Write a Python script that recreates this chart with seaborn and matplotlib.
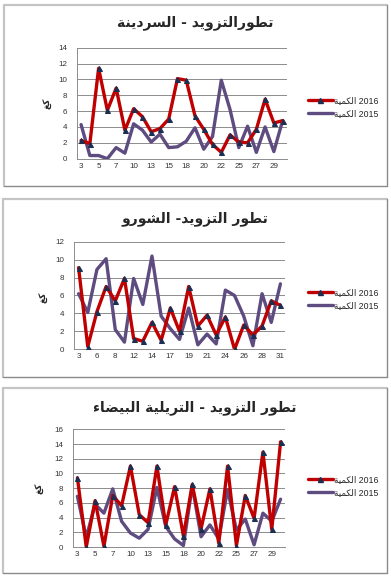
import numpy as np
import matplotlib
matplotlib.use('Agg')
import matplotlib.pyplot as plt
from matplotlib.lines import Line2D
import seaborn as sns

# Data (day of month -> quantity)
days_sardine = [3, 4, 5, 6, 7, 9, 10, 12, 13, 14, 15, 17, 18, 19, 20, 21, 22, 24, 25, 26, 27, 28, 29, 30]
sardine_2016 = [2.3, 1.9, 11.4, 6.1, 8.9, 3.6, 6.3, 5.3, 3.4, 3.8, 5.0, 10.1, 9.9, 5.4, 3.7, 1.8, 0.8, 3.0, 2.1, 2.0, 3.7, 7.5, 4.5, 4.8]
sardine_2015 = [4.3, 0.4, 0.4, 0.0, 1.4, 0.7, 4.4, 3.6, 2.1, 3.1, 1.4, 1.5, 2.2, 3.9, 1.2, 2.8, 9.9, 6.2, 1.4, 4.1, 0.8, 4.0, 0.9, 4.8]

days_chourou = [3, 5, 6, 7, 8, 10, 12, 13, 14, 16, 17, 18, 19, 20, 21, 22, 24, 25, 26, 27, 28, 30, 31]
chourou_2016 = [9.1, 0.3, 4.2, 7.0, 5.4, 7.9, 1.2, 0.9, 3.0, 1.0, 4.6, 2.0, 7.0, 2.6, 3.8, 1.6, 3.6, 0.0, 2.7, 1.6, 2.6, 5.4, 4.9]
chourou_2015 = [6.2, 4.1, 8.9, 10.1, 2.2, 0.8, 7.9, 5.0, 10.4, 3.7, 2.3, 1.1, 4.6, 0.5, 1.7, 0.6, 6.6, 6.0, 3.7, 0.4, 6.2, 3.0, 7.3]

days_trilia = [3, 4, 5, 6, 7, 9, 10, 12, 13, 14, 15, 17, 18, 19, 20, 21, 22, 24, 25, 26, 27, 28, 29, 30]
trilia_2016 = [9.4, 0.0, 6.3, 0.1, 7.0, 5.6, 11.0, 4.4, 3.3, 11.0, 3.0, 8.2, 1.5, 8.5, 2.5, 7.9, 0.5, 11.0, 0.2, 7.0, 3.9, 12.9, 2.4, 14.3]
trilia_2015 = [6.9, 1.3, 5.8, 4.6, 7.9, 3.5, 1.9, 1.2, 2.4, 8.1, 2.8, 1.1, 0.2, 8.3, 1.4, 3.0, 1.1, 7.8, 2.3, 3.8, 0.3, 4.6, 3.5, 6.5]

titles = ['تطورالتزويد - السردينة', 'تطور التزويد- الشورو', 'تطور التزويد - التريلية البيضاء']
ylabel = 'كغ'
legend_word = 'الكمية'

# small arabic shaper (matplotlib does not join arabic letters)
AR_FORMS = {
    'ء': ('\uFE80', None, None, None),
    'ا': ('\uFE8D', '\uFE8E', None, None),
    'ب': ('\uFE8F', '\uFE90', '\uFE91', '\uFE92'),
    'ة': ('\uFE93', '\uFE94', None, None),
    'ت': ('\uFE95', '\uFE96', '\uFE97', '\uFE98'),
    'د': ('\uFEA9', '\uFEAA', None, None),
    'ر': ('\uFEAD', '\uFEAE', None, None),
    'ز': ('\uFEAF', '\uFEB0', None, None),
    'س': ('\uFEB1', '\uFEB2', '\uFEB3', '\uFEB4'),
    'ش': ('\uFEB5', '\uFEB6', '\uFEB7', '\uFEB8'),
    'ض': ('\uFEBD', '\uFEBE', '\uFEBF', '\uFEC0'),
    'ط': ('\uFEC1', '\uFEC2', '\uFEC3', '\uFEC4'),
    'غ': ('\uFECD', '\uFECE', '\uFECF', '\uFED0'),
    'ك': ('\uFED9', '\uFEDA', '\uFEDB', '\uFEDC'),
    'ل': ('\uFEDD', '\uFEDE', '\uFEDF', '\uFEE0'),
    'م': ('\uFEE1', '\uFEE2', '\uFEE3', '\uFEE4'),
    'ن': ('\uFEE5', '\uFEE6', '\uFEE7', '\uFEE8'),
    'و': ('\uFEED', '\uFEEE', None, None),
    'ي': ('\uFEF1', '\uFEF2', '\uFEF3', '\uFEF4'),
}


def ar(text):
    out = []
    for i, c in enumerate(text):
        f = AR_FORMS.get(c)
        if f is None:
            out.append(c)
            continue
        prev = AR_FORMS.get(text[i - 1]) if i > 0 else None
        nxt = AR_FORMS.get(text[i + 1]) if i + 1 < len(text) else None
        jp = prev is not None and prev[2] is not None and f[1] is not None
        jn = nxt is not None and f[2] is not None and nxt[1] is not None
        if jp and jn:
            out.append(f[3])
        elif jp:
            out.append(f[1])
        elif jn:
            out.append(f[2])
        else:
            out.append(f[0])
    return ''.join(reversed(out))


sns.set_style('white')
plt.rcParams['font.family'] = ['Liberation Sans', 'DejaVu Sans']

W, H = 391, 578
fig = plt.figure(figsize=(W / 100, H / 100), dpi=100)
fig.patch.set_facecolor('white')

RED = '#C00000'
PURPLE = '#5E4B80'
GRID = '#8C8C8C'

# pixel layout: panel box, plot area, title y, legend y, ylabel pos, ymax
panels = [
    dict(box=(4, 5, 387, 186), area=(76.7, 47.7, 287, 158.7), ty=23, ly=(100, 114), yl=(48, 103), ymax=14,
         days=days_sardine, v16=sardine_2016, v15=sardine_2015),
    dict(box=(3, 199, 387, 377), area=(74, 241.7, 285, 349.3), ty=219, ly=(292, 306), yl=(44, 297), ymax=12,
         days=days_chourou, v16=chourou_2016, v15=chourou_2015),
    dict(box=(3, 388, 387, 573), area=(73, 429.3, 285, 547), ty=408, ly=(479, 493), yl=(40, 488), ymax=16,
         days=days_trilia, v16=trilia_2016, v15=trilia_2015),
]


def fx(px):
    return px / W


def fy(py):
    return 1 - py / H


for k, p in enumerate(panels):
    x0, y0, x1, y1 = p['box']
    # panel frame: light top/left, darker bottom/right
    fig.add_artist(Line2D([fx(x0), fx(x1)], [fy(y0), fy(y0)], color='#C4C4C4', lw=1.6))
    fig.add_artist(Line2D([fx(x0), fx(x0)], [fy(y0), fy(y1)], color='#C4C4C4', lw=1.6))
    fig.add_artist(Line2D([fx(x0), fx(x1)], [fy(y1), fy(y1)], color='#8A8A8A', lw=1.0))
    fig.add_artist(Line2D([fx(x1), fx(x1)], [fy(y0), fy(y1)], color='#8A8A8A', lw=1.0))

    l, t, r, b = p['area']
    ax = fig.add_axes([fx(l), fy(b), (r - l) / W, (b - t) / H])
    pos = np.arange(len(p['days']))

    sns.lineplot(x=pos, y=p['v15'], ax=ax, color=PURPLE, lw=2.4, zorder=3)
    sns.lineplot(x=pos, y=p['v16'], ax=ax, color=RED, lw=2.4, zorder=4,
                 marker='^', markersize=3.6, markerfacecolor='#1B2F52', markeredgecolor='#1B2F52')

    ax.set_xlim(-0.5, len(pos) - 0.5)
    ax.set_ylim(0, p['ymax'])
    ax.set_yticks(np.arange(0, p['ymax'] + 1, 2))
    ax.set_xticks(pos[::2])
    ax.set_xticklabels([str(d) for d in p['days'][::2]])
    ax.tick_params(axis='both', labelsize=5.8, colors='#333333', length=0)
    ax.tick_params(axis='y', pad=7)
    ax.tick_params(axis='x', pad=3)
    ax.grid(axis='y', color=GRID, lw=0.7)
    ax.set_axisbelow(True)
    for s in ['top', 'right']:
        ax.spines[s].set_visible(False)
    ax.spines['left'].set_color(GRID)
    ax.spines['left'].set_linewidth(0.7)
    ax.spines['bottom'].set_color(GRID)
    ax.spines['bottom'].set_linewidth(0.7)
    ax.set_xlabel('')
    ax.set_ylabel('')

    fig.text(fx(195), fy(p['ty']), ar(titles[k]), ha='center', va='center',
             fontsize=10, fontweight='bold', family='DejaVu Sans')
    fig.text(fx(p['yl'][0]), fy(p['yl'][1]), ar(ylabel), ha='center', va='center',
             rotation=90, fontsize=6.5, fontweight='bold', family='DejaVu Sans')

    handles = [Line2D([], [], color=RED, lw=2.4, marker='^', markersize=3.6,
                      markerfacecolor='#1B2F52', markeredgecolor='#1B2F52'),
               Line2D([], [], color=PURPLE, lw=2.4)]
    labels = [ar(legend_word) + ' 2016', ar(legend_word) + ' 2015']
    ax.legend(handles, labels, loc='center left', frameon=False, fontsize=6.3,
              bbox_to_anchor=(fx(308), fy((p['ly'][0] + p['ly'][1]) / 2)),
              bbox_transform=fig.transFigure, handlelength=2.8, handletextpad=0.15,
              labelspacing=0.45, borderaxespad=0, borderpad=0)

fig.savefig('out.png', dpi=100, facecolor='white')
